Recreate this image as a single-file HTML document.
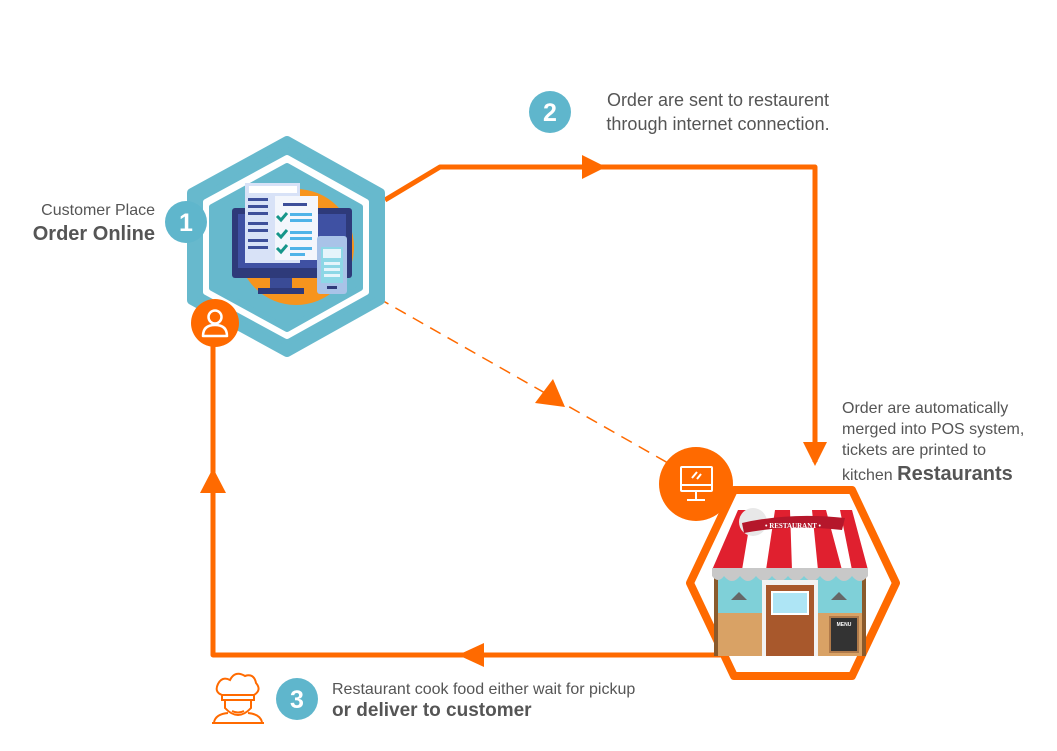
<!DOCTYPE html>
<html><head><meta charset="utf-8"><style>
html,body{margin:0;padding:0;background:#fff;}
body{width:1057px;height:746px;overflow:hidden;font-family:"Liberation Sans",sans-serif;}
</style></head><body>
<svg width="1057" height="746" viewBox="0 0 1057 746" xmlns="http://www.w3.org/2000/svg" font-family="Liberation Sans, sans-serif">
<g stroke="#ff6a00" stroke-width="5" fill="none" stroke-linejoin="round">
<polyline points="385,200 440,167 815,167 815,462"/>
<polyline points="722,655 213,655 213,345"/>
</g>
<line x1="378" y1="298" x2="668" y2="463" stroke="#ff6a00" stroke-width="1.5" stroke-dasharray="12,8"/>
<g fill="#ff6a00">
<polygon points="606,167 582,155 582,179"/>
<polygon points="815,466 803,442 827,442"/>
<polygon points="458,655 484,643 484,667"/>
<polygon points="213,468 200,493 226,493"/>
<polygon points="565,407 535,403 553,379"/>
</g>
<polygon points="287,141 380,193 380,300 287,352 192,300 192,193" fill="#67b9cd" stroke="#67b9cd" stroke-width="10" stroke-linejoin="round"/>
<polygon points="287,158 366,202 366,292 287,336 206,292 206,202" fill="#fff" stroke="#fff" stroke-width="6" stroke-linejoin="round"/>
<polygon points="287,166 360,207 360,288 287,329 212,288 212,207" fill="#67b9cd" stroke="#67b9cd" stroke-width="6" stroke-linejoin="round"/>
<circle cx="296" cy="247" r="58" fill="#f7941d"/>
<rect x="232" y="208" width="120" height="70" rx="3" fill="#2e3a7a"/>
<rect x="238" y="214" width="108" height="54" fill="#3f51a3"/>
<rect x="270" y="278" width="22" height="10" fill="#3a4b96"/>
<rect x="258" y="288" width="46" height="6" fill="#2e3a7a"/>
<rect x="245" y="183" width="55" height="80" fill="#d8e2f7"/>
<rect x="249" y="186" width="48" height="7" fill="#fff"/>
<g fill="#3d4f9a"><rect x="248" y="198" width="20" height="3"/><rect x="248" y="205" width="20" height="3"/><rect x="248" y="212" width="20" height="3"/><rect x="248" y="222" width="20" height="3"/><rect x="248" y="229" width="20" height="3"/><rect x="248" y="239" width="20" height="3"/><rect x="248" y="246" width="20" height="3"/></g>
<rect x="275" y="196" width="43" height="64" fill="#f3f6fc"/>
<rect x="283" y="203" width="24" height="3" fill="#3d4f9a"/>
<g fill="#4fb3e8"><rect x="290" y="213" width="22" height="3"/><rect x="290" y="219" width="22" height="3"/><rect x="290" y="231" width="22" height="3"/><rect x="290" y="237" width="22" height="3"/><rect x="290" y="247" width="22" height="3"/><rect x="290" y="253" width="15" height="3"/></g>
<g stroke="#16968a" stroke-width="3" fill="none"><polyline points="277,216 281,220 287,213"/><polyline points="277,233 281,237 287,230"/><polyline points="277,248 281,252 287,245"/></g>
<rect x="317" y="236" width="30" height="58" rx="3" fill="#a9c3e8"/>
<rect x="321" y="247" width="22" height="36" fill="#8dd7e6"/>
<rect x="323" y="249" width="18" height="9" fill="#e5f4fb"/>
<g fill="#e5f4fb"><rect x="324" y="262" width="16" height="3"/><rect x="324" y="268" width="16" height="3"/><rect x="324" y="274" width="16" height="3"/></g>
<rect x="327" y="286" width="10" height="3" fill="#2e3a7a"/>
<circle cx="215" cy="323" r="24" fill="#ff6a00"/>
<circle cx="215" cy="317" r="6.5" fill="none" stroke="#fff" stroke-width="2.5"/>
<path d="M203,336 Q203,325 215,325 Q227,325 227,336 Z" fill="none" stroke="#fff" stroke-width="2.5" stroke-linejoin="round"/>
<circle cx="186" cy="222" r="21" fill="#5fb6cc"/>
<text x="186" y="231" text-anchor="middle" font-size="25" font-weight="bold" fill="#fff">1</text>
<circle cx="550" cy="112" r="21" fill="#5fb6cc"/>
<text x="550" y="121" text-anchor="middle" font-size="25" font-weight="bold" fill="#fff">2</text>
<circle cx="297" cy="699" r="21" fill="#5fb6cc"/>
<text x="297" y="708" text-anchor="middle" font-size="25" font-weight="bold" fill="#fff">3</text>
<g fill="#555">
<text x="155" y="215" text-anchor="end" font-size="16">Customer Place</text>
<text x="155" y="240" text-anchor="end" font-size="20" font-weight="bold">Order Online</text>
<text x="718" y="106" text-anchor="middle" font-size="18">Order are sent to restaurent</text>
<text x="718" y="130" text-anchor="middle" font-size="18">through internet connection.</text>
<text x="842" y="413" font-size="16">Order are automatically</text>
<text x="842" y="434" font-size="16">merged into POS system,</text>
<text x="842" y="455" font-size="16">tickets are printed to</text>
<text x="842" y="480" font-size="16">kitchen <tspan font-size="20" font-weight="bold">Restaurants</tspan></text>
<text x="332" y="694" font-size="16">Restaurant cook food either wait for pickup</text>
<text x="332" y="716" font-size="19" font-weight="bold">or deliver to customer</text>
</g>
<g stroke="#ff6a00" stroke-width="2" fill="none">
<path d="M222,695 Q214,692 218,684 Q222,676 230,680 Q235,670 245,676 Q254,673 256,683 Q262,690 254,695 Z"/>
<rect x="222" y="695" width="32" height="5"/>
<path d="M225,700 L225,708 Q238,722 251,708 L251,700"/>
<path d="M214,722 Q216,714 228,713 M248,713 Q260,714 262,722 M212,723 L264,723"/>
<path d="M232,711 Q238,714 244,711"/>
</g>
<!-- restaurant hexagon -->
<polygon points="734,490 852,490 896,583 852,676 734,676 690,583" fill="#fff" stroke="#ff6a00" stroke-width="8" stroke-linejoin="round"/>
<rect x="714" y="568" width="152" height="46" fill="#7fd0d8"/>
<rect x="714" y="613" width="152" height="43" fill="#d9a265"/>
<rect x="714" y="568" width="4" height="88" fill="#8a5a2c"/>
<rect x="862" y="568" width="4" height="88" fill="#8a5a2c"/>
<path d="M712,570 L738,510 L850,510 L868,570 Z" fill="#fff"/>
<g fill="#e0202f"><polygon points="738,510 752,510 742,570 712,570"/><polygon points="775,510 790,510 792,570 766,570"/><polygon points="812,510 826,510 842,570 818,570"/><polygon points="840,510 852,510 868,570 852,570"/></g>
<path d="M712,568 h156 v8 q-8,10 -16,0 q-8,10 -16,0 q-8,10 -16,0 q-8,10 -16,0 q-8,10 -16,0 q-8,10 -16,0 q-8,10 -16,0 q-8,10 -16,0 q-8,10 -16,0 q-6,8 -12,0 Z" fill="#c8c8c8"/>
<path d="M731,600 l8,-8 l8,8 Z M847,600 l-8,-8 l-8,8 Z" fill="#666"/>
<rect x="762" y="580" width="56" height="76" fill="#f2f2f2"/>
<rect x="766" y="585" width="48" height="71" fill="#a8582c"/>
<rect x="772" y="592" width="36" height="22" fill="#aee5f5" stroke="#fff" stroke-width="2"/>
<rect x="830" y="617" width="28" height="35" fill="#333" stroke="#b07a4a" stroke-width="2"/>
<text x="844" y="626" text-anchor="middle" font-size="5" fill="#fff" font-weight="bold">MENU</text>
<circle cx="753" cy="522" r="14" fill="#e8e8e8"/>
<path d="M742,523 Q790,512 845,518 L842,530 Q790,524 744,533 Z" fill="#b5172b"/>
<text x="793" y="528" text-anchor="middle" font-size="7" font-weight="bold" fill="#fff" font-family="Liberation Serif, serif">• RESTAURANT •</text>
<circle cx="696" cy="484" r="37" fill="#ff6a00"/>
<g stroke="#fff" stroke-width="2" fill="none">
<rect x="681" y="467" width="31" height="24" rx="1"/>
<line x1="681" y1="485" x2="712" y2="485"/>
<line x1="696" y1="491" x2="696" y2="499"/>
<line x1="687" y1="500" x2="705" y2="500"/>
<line x1="692" y1="478" x2="697" y2="472"/>
<line x1="697" y1="479" x2="701" y2="474"/>
</g>
</svg>
</body></html>
